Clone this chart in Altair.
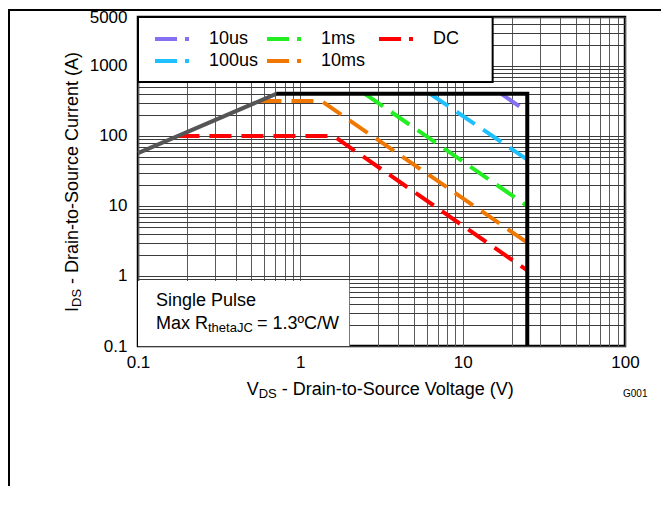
import json
import altair as alt
import pandas as pd

FONT = "Liberation Sans"

# ---- axis tick labels ----
X_TICKS = [0.1, 1, 10, 100]
Y_TICKS = [0.1, 1, 10, 100, 1000, 5000]

# ---- series (legend order: column-major in a 3-column legend) ----
SERIES = ["10us", "100us", "1ms", "10ms", "DC"]
COLORS = ["#8470f0", "#1ec0ff", "#22ee22", "#f07800", "#ff0000"]

US10_V = [17.3, 25]
US10_I = [400, 220]
US100_V = [6.3, 25]
US100_I = [400, 46]
MS1_V = [2.5, 25]
MS1_I = [400, 10]
MS10_V = [0.56, 1.35, 25]
MS10_I = [315, 315, 3.0]
DC_V = [0.175, 1.6, 25]
DC_I = [100, 100, 1.2]

# package / RDS limit line and SOA outline
RDS_V = [0.1, 0.71]
RDS_I = [57, 400]
SOA_V = [0.71, 25, 25]
SOA_I = [400, 400, 0.1]

# annotation box and legend box extents (data units)
NOTE_V = [0.1, 2.0]
NOTE_I = [0.1, 0.85]
LEGBOX_V = [0.1, 15.3]
LEGBOX_I = [590, 5000]

rows = []
for name, vs, is_ in [("10us", US10_V, US10_I), ("100us", US100_V, US100_I),
                      ("1ms", MS1_V, MS1_I), ("10ms", MS10_V, MS10_I),
                      ("DC", DC_V, DC_I)]:
    for k, (v, i) in enumerate(zip(vs, is_)):
        rows.append({"series": name, "V": v, "I": i, "k": k})
curves = pd.DataFrame(rows)
rds = pd.DataFrame({"V": RDS_V, "I": RDS_I, "k": range(len(RDS_V))})
soa = pd.DataFrame({"V": SOA_V, "I": SOA_I, "k": range(len(SOA_V))})
note = pd.DataFrame({"V": [NOTE_V[0]], "V2": [NOTE_V[1]], "I": [NOTE_I[0]], "I2": [NOTE_I[1]]})
legbox = pd.DataFrame({"V": [LEGBOX_V[0]], "V2": [LEGBOX_V[1]], "I": [LEGBOX_I[0]], "I2": [LEGBOX_I[1]]})
one = pd.DataFrame({"a": [0]})

# grid positions (1..9 per decade)
x_grid = [k * 10 ** d for d in (-1, 0, 1) for k in range(1, 10)] + [100]
y_grid = [k * 10 ** d for d in (-1, 0, 1, 2) for k in range(1, 10)] + [1000, 2000, 3000, 4000, 5000]

x_label_expr = f"indexof({json.dumps(X_TICKS)}, datum.value) >= 0 ? '' + datum.value : ''"
y_label_expr = f"indexof({json.dumps(Y_TICKS)}, datum.value) >= 0 ? '' + datum.value : ''"

x_scale = alt.Scale(type="log", domain=[0.1, 100], nice=False)
y_scale = alt.Scale(type="log", domain=[0.1, 5000], nice=False)

x_axis = alt.Axis(values=x_grid, labelExpr=x_label_expr, title=None, ticks=False, domain=False,
                  grid=True, gridColor="#5a5a5a", gridWidth=1, labelFontSize=17, labelFont=FONT,
                  labelColor="black", labelPadding=8, labelFlush=False, labelOverlap=False)
y_axis = alt.Axis(values=y_grid, labelExpr=y_label_expr, title=None, ticks=False, domain=False,
                  grid=True, gridColor="#3c3c3c", gridWidth=1, labelFontSize=17, labelFont=FONT,
                  labelColor="black", labelPadding=11, labelFlush=False, labelOverlap=False)

X = alt.X("V:Q", scale=x_scale, axis=x_axis)
Y = alt.Y("I:Q", scale=y_scale, axis=y_axis)

note_box = alt.Chart(note).mark_rect(color="white").encode(
    x=X, x2="V2:Q", y=Y, y2="I2:Q")
legend_box = alt.Chart(legbox).mark_rect(fill="white", stroke="black", strokeWidth=2).encode(
    x="V:Q", x2="V2:Q", y="I:Q", y2="I2:Q")

lines = alt.Chart(curves).mark_line(strokeWidth=4, strokeDash=[22, 10], clip=True).encode(
    x=alt.X("V:Q"), y=alt.Y("I:Q"), order="k:Q",
    color=alt.Color("series:N",
                    scale=alt.Scale(domain=SERIES, range=COLORS),
                    legend=alt.Legend(orient="none", legendX=0, legendY=0, columns=3, title=None,
                                      symbolType="stroke", symbolSize=1156, symbolStrokeWidth=4,
                                      symbolDash=[22, 8, 4, 10], symbolOffset=3,
                                      labelFontSize=18, labelFont=FONT,
                                      labelColor="black", labelOffset=18, columnPadding=3,
                                      rowPadding=2, padding=12, clipHeight=20,
                                      gridAlign="all", labelLimit=300)))

rds_line = alt.Chart(rds).mark_line(color="#555555", strokeWidth=4).encode(
    x="V:Q", y="I:Q", order="k:Q")
soa_line = alt.Chart(soa).mark_line(color="black", strokeWidth=4).encode(
    x="V:Q", y="I:Q", order="k:Q")


def txt(s, x, y, size=18, **kw):
    return alt.Chart(one).mark_text(text=s, font=FONT, fontSize=size, color="black",
                                    align="left", baseline="alphabetic", **kw).encode(
        x=alt.value(x), y=alt.value(y))


texts = [
    txt("Single Pulse", 18, 289),
    txt("Max R", 18, 312),
    txt("thetaJC", 70, 315, size=13),
    txt("= 1.3ºC/W", 119, 312),
    # x-axis title
    txt("V", 108.7, 378),
    txt("DS", 120.7, 381, size=13),
    txt("- Drain-to-Source Voltage (V)", 143.7, 378),
    # y-axis title (rotated)
    txt("I", -60, 295, angle=270),
    txt("DS", -57, 290, size=13, angle=270),
    txt("- Drain-to-Source Current (A)", -60, 267, angle=270),
    txt("G001", 485, 380, size=10),
]

frame = [
    alt.Chart(one).mark_rect(color="black").encode(
        x=alt.value(-130), x2=alt.value(-128), y=alt.value(-8), y2=alt.value(470)),
    alt.Chart(one).mark_rect(color="black").encode(
        x=alt.value(-130), x2=alt.value(523), y=alt.value(-8), y2=alt.value(-6)),
]

chart = alt.layer(note_box, legend_box, lines, rds_line, soa_line, *texts, *frame).properties(
    width=487, height=329,
    autosize=alt.AutoSizeParams(type="none"),
    padding={"left": 130, "top": 9, "right": 36, "bottom": 140},
).configure_view(stroke="black", strokeWidth=2.5)

chart.save("out.html", embed_options={"renderer": "svg", "actions": False})
